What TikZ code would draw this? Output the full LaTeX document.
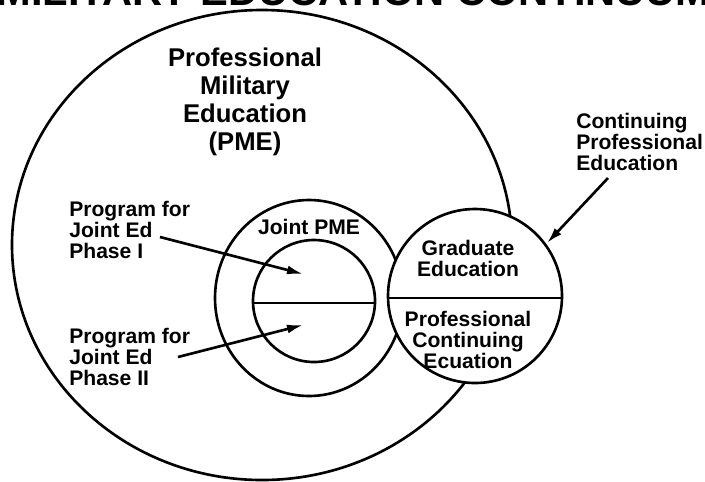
\documentclass[tikz,border=0pt]{standalone}
\usepackage{fontspec}
\setmainfont{Liberation Sans}
\usetikzlibrary{arrows.meta}
\tikzset{>={Latex[length=3.2mm,width=1.8mm]}}
\tikzset{
  tag/.style = {inner sep=0pt, font=\bfseries\fontsize{12}{11.9}\selectfont}
}

\begin{document}
\begin{tikzpicture}[x=0.02cm,y=-0.02cm,line width=1.5pt]
  \useasboundingbox (0,0) rectangle (705,481);
  \node[tag, anchor=base east, font=\bfseries\fontsize{23.7}{24}\selectfont] (banner) at (712,5) {MILITARY EDUCATION CONTINUUM};
  % circles
  \draw (262,245) ellipse [x radius=250, y radius=235];
  \draw (309,298) ellipse [x radius=94, y radius=98];
  \draw (314,301) circle [radius=61];
  \draw (253,303) -- (375,303);
  \filldraw[fill=white] (475,296) circle [radius=87];
  \draw (388,298) -- (562,298);
  % labels
  \node[tag, anchor=north, align=center, font=\bfseries\fontsize{14.6}{15.9}\selectfont] (pme) at (245,47) {Professional\\Military\\Education\\(PME)};
  \node[tag, anchor=north] (jpme) at (309,218) {Joint PME};
  \node[tag, anchor=north west, align=left] (phaseone) at (68,200) {Program for\\Joint Ed\\Phase I};
  \node[tag, anchor=north west, align=left] (phasetwo) at (68,327) {Program for\\Joint Ed\\Phase II};
  \node[tag, anchor=north west, align=left] (cpe) at (575,112) {Continuing\\Professional\\Education};
  \node[tag, anchor=north, align=center] (grad) at (468,239) {Graduate\\Education};
  \node[tag, anchor=north, align=center] (pce) at (468,310) {Professional\\Continuing\\Ecuation};
  % arrows
  \coordinate (onetail) at (160,237);
  \coordinate (onetip) at (303,274);
  \coordinate (twotail) at (178,357);
  \coordinate (twotip) at (303,325);
  \coordinate (cpetail) at (608,178);
  \coordinate (cpetip) at (547,243);
  \draw[->] (onetail) -- (onetip);
  \draw[->] (twotail) -- (twotip);
  \draw[->] (cpetail) -- (cpetip);
\end{tikzpicture}
\end{document}
